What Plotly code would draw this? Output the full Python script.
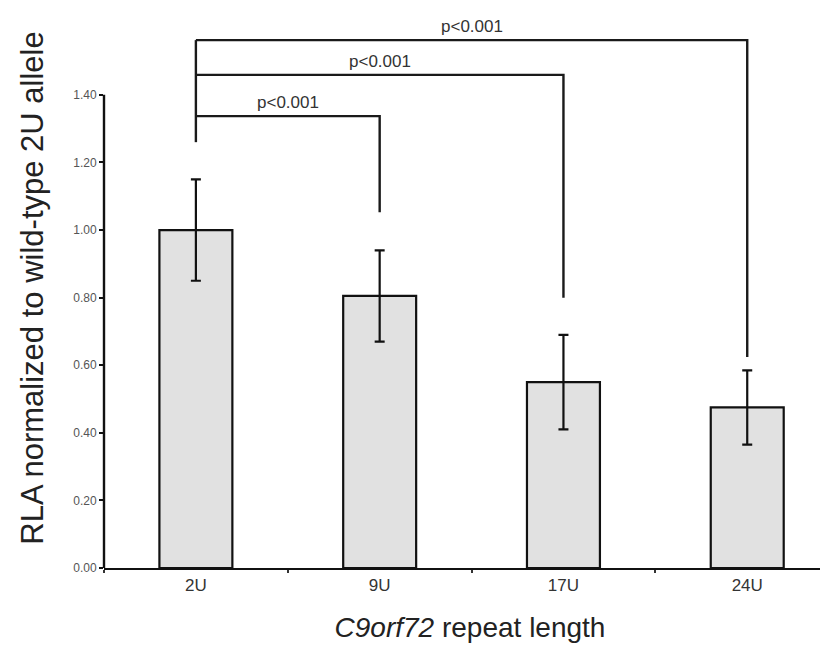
import plotly.graph_objects as go

categories = ["2U", "9U", "17U", "24U"]
rla_mean = [1.00, 0.805, 0.55, 0.475]
rla_err = [0.15, 0.135, 0.14, 0.11]
y_ticks = [0.0, 0.2, 0.4, 0.6, 0.8, 1.0, 1.2, 1.4]

# significance brackets: reference group 2U vs each other group
ref_top = 1.26
comp_groups = ["9U", "17U", "24U"]
bracket_levels = [1.337, 1.459, 1.562]
bracket_drops = [1.053, 0.80, 0.624]
p_labels = ["p<0.001", "p<0.001", "p<0.001"]

xpos = list(range(len(categories)))
idx = {c: i for i, c in enumerate(categories)}

fig = go.Figure()
fig.add_trace(go.Bar(
    x=xpos, y=rla_mean, width=0.397,
    marker=dict(color="#e1e1e1", line=dict(color="#111111", width=2.2)),
    error_y=dict(type="data", array=rla_err, color="#111111", thickness=2.2, width=5),
    showlegend=False, hoverinfo="skip",
))

lx, ly = [], []
lx += [0, 0, None]
ly += [ref_top, max(bracket_levels), None]
for g, lev, drop in zip(comp_groups, bracket_levels, bracket_drops):
    lx += [0, idx[g], idx[g], None]
    ly += [lev, lev, drop, None]
fig.add_trace(go.Scatter(x=lx, y=ly, mode="lines",
                         line=dict(color="#1a1a1a", width=2.4),
                         showlegend=False, hoverinfo="skip"))

for g, lev, p in zip(comp_groups, bracket_levels, p_labels):
    fig.add_annotation(x=idx[g] / 2, y=lev, text=p, showarrow=False,
                       xanchor="center", yanchor="bottom", yshift=2,
                       font=dict(family="Arial, Liberation Sans", size=17, color="#333333"))

# y axis line only spans the tick range
fig.add_shape(type="line", xref="paper", yref="y", x0=0, x1=0,
              y0=min(y_ticks), y1=max(y_ticks), line=dict(color="#111111", width=2.4))

fig.update_layout(
    width=828, height=646,
    margin=dict(l=96, r=0, t=0, b=86),
    paper_bgcolor="white", plot_bgcolor="white",
    font=dict(family="Arial, Liberation Sans", color="#333333"),
    xaxis=dict(
        range=[-0.5, 3.483], tickvals=xpos, ticktext=categories,
        showgrid=False, zeroline=False, showline=True, linecolor="#111111", linewidth=2.4,
        ticks="", tickfont=dict(size=17, color="#333333"),
        minor=dict(tickvals=[-0.5, 0.5, 1.5, 2.5], ticks="outside", ticklen=3,
                   tickcolor="#333333", tickwidth=2),
        title=dict(text="<i>C9orf72</i> repeat length",
                   font=dict(size=28, color="#222222"), standoff=24),
    ),
    yaxis=dict(
        range=[0, 1.657], tickvals=y_ticks, tickformat=".2f",
        showgrid=False, zeroline=False, showline=False,
        ticks="outside", ticklen=4, tickwidth=2, tickcolor="#111111",
        tickfont=dict(size=12, color="#555555"),
        title=dict(text="RLA normalized to wild-type 2U allele",
                   font=dict(size=31, color="#222222"), standoff=20),
    ),
)

fig.write_html("out.html")
